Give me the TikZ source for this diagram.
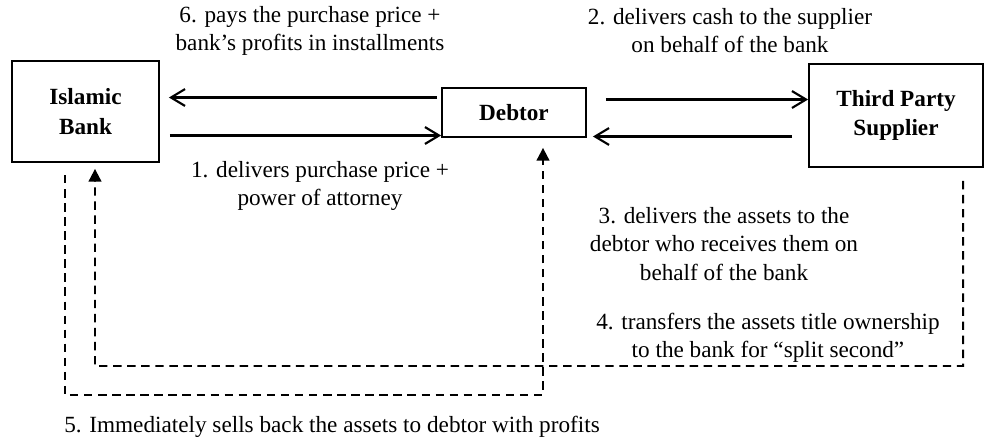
\documentclass[tikz,border=0pt]{standalone}
\usepackage{fontspec}
\setmainfont{Liberation Serif}
\usepackage{tikz}
\usetikzlibrary{arrows.meta,positioning,calc}

\begin{document}
\begin{tikzpicture}[
    x = 0.025cm, y = -0.025cm,
    font = \fontsize{16.5}{20}\selectfont,
    party/.style = {rectangle, draw, line width=1.3pt, align=center, font=\fontsize{16.5}{21}\selectfont\bfseries},
    flow/.style = {-{Straight Barb[length=10pt,width=12pt]}, line width=1.5pt},
    title/.style = {-{Triangle[length=9pt,width=9pt]}, line width=1.4pt, dash pattern=on 6pt off 4pt},
    note/.style = {align=center, inner sep=0pt}
]
    \useasboundingbox (0,0) rectangle (984,440);

    % Parties
    \node[party, minimum width=147*0.025cm, minimum height=101*0.025cm] (bank) at (85.5,111.5) {Islamic\\Bank};
    \node[party, minimum width=144*0.025cm, minimum height=49*0.025cm] (debtor) at (514,112.5) {Debtor};
    \node[party, minimum width=174*0.025cm, minimum height=103*0.025cm] (supplier) at (896,115.5) {Third Party\\Supplier};

    % Solid flows
    \draw[flow] ($(debtor.west)+(-4,-15)$) -- ($(debtor.west -| bank.east)+(9,-15)$);
    \draw[flow] ($(debtor.west -| bank.east)+(10,23)$) -- ($(debtor.west)+(0,23)$);
    \draw[flow] ($(debtor.east)+(19,-13)$) -- ($(debtor.east -| supplier.west)+(0,-13)$);
    \draw[flow] ($(debtor.east -| supplier.west)+(-16,24)$) -- ($(debtor.east)+(6,24)$);

    % Dashed title transfers
    \coordinate (sup drop) at ($(supplier.south)+(67,13)$);
    \coordinate (low right) at (963,366);
    \coordinate (low left) at (95,366);
    \draw[title] (sup drop) -- (low right) -- (low left) -- ($(bank.south)+(9.5,6)$);

    \coordinate (bank drop) at (65,175);
    \coordinate (deep left) at (65,395);
    \coordinate (deep right) at (543,395);
    \draw[title] (bank drop) -- (deep left) -- (deep right) -- ($(debtor.south)+(29,10)$);

    % Labels
    \node[note] (n6) at (310,31) {6. pays the purchase price +\\bank’s profits in installments};
    \node[note] (n2) at (730,31) {2. delivers cash to the supplier\\on behalf of the bank};
    \node[note] (n1) at (320,186) {1. delivers purchase price +\\power of attorney};
    \node[note] (n3) at (724,244) {3. delivers the assets to the\\debtor who receives them on\\behalf of the bank};
    \node[note] (n4) at (768,338) {4. transfers the assets title ownership\\to the bank for “split second”};
    \node[note, anchor=west] (n5) at (64,427) {5. Immediately sells back the assets to debtor with profits};
\end{tikzpicture}
\end{document}
